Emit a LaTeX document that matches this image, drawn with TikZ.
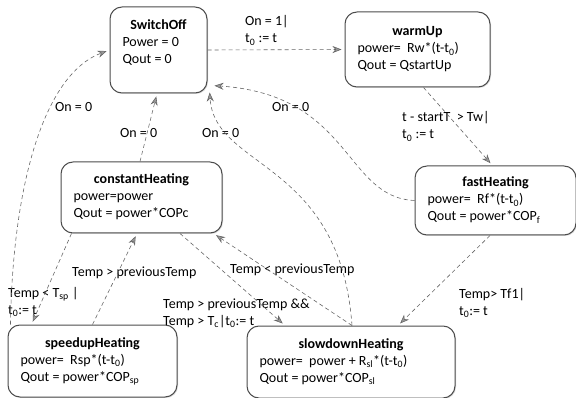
\documentclass[tikz,border=0pt]{standalone}
\usepackage{fontspec}
\setmainfont{Carlito}
\usepackage{tikz}
\usetikzlibrary{arrows.meta, shadows}

\newcommand{\statetext}[4]{%
  \begin{tabular}{@{}p{#1}@{}}
    \multicolumn{1}{@{}c@{}}{\textbf{#2}}\\ #3\\ #4
  \end{tabular}}

\begin{document}
\begin{tikzpicture}[
    x=1pt, y=-1pt,
    every node/.style={font=\fontsize{14}{17}\selectfont},
    state/.style={draw=black!70, line width=1pt, rounded corners=12pt, fill=white, inner xsep=12.5pt, inner ysep=0pt,
      drop shadow={shadow xshift=1pt, shadow yshift=-1pt, opacity=0.3}},
    lbl/.style={align=left, inner sep=0pt, anchor=west},
    trans/.style={-{Stealth[length=9pt, width=7pt, fill=black!40]}, draw=black!60, dash pattern=on 4pt off 3pt, line width=0.6pt, shorten >=3pt}
  ]
  \useasboundingbox (0,0) rectangle (576,398);

  % states
  \node[state, minimum height=86pt] (switchoff) at (158.5,50) {\statetext{72pt}{SwitchOff}{Power = 0}{Qout = 0\\[14pt]}};
  \node[state, minimum height=75pt] (warmup) at (417.5,49.5) {\statetext{120pt}{warmUp}{power=~ Rw*(t-t\textsubscript{0})}{Qout = QstartUp}};
  \node[state, minimum height=69pt] (fastheat) at (495.5,200.5) {\statetext{136pt}{fastHeating}{power=~ Rf*(t-t\textsubscript{0})}{Qout = power*COP\textsubscript{f}}};
  \node[state, minimum height=71pt] (constheat) at (141.5,197.5) {\statetext{136pt}{constantHeating}{power=power}{Qout = power*COPc}};
  \node[state, minimum height=72pt] (speedup) at (92.5,361) {\statetext{144pt}{speedupHeating}{power=~ Rsp*(t-t\textsubscript{0})}{Qout = power*COP\textsubscript{sp}}};
  \node[state, minimum height=72pt] (slowdown) at (351,362) {\statetext{183pt}{slowdownHeating}{power=~ power + R\textsubscript{sl}*(t-t\textsubscript{0})}{Qout = power*COP\textsubscript{sl}}};

  % guards
  \node[lbl] (lblon) at (245,30.5) {On = 1|\\t\textsubscript{0} := t};
  \node[lbl] (lbltw) at (402,126.5) {t - startT~ > Tw|\\t\textsubscript{0} := t};
  \node[lbl] (lbltf) at (459,303) {Temp> Tf1|\\t\textsubscript{0}:= t};
  \node[lbl] (lbltsp) at (8,302) {Temp < T\textsubscript{sp} |\\t\textsubscript{0}:= t};
  \node[lbl] (lblgt) at (72,273) {Temp > previousTemp};
  \node[lbl] (lbllt) at (230,270) {Temp < previousTemp};
  \node[lbl] (lbltc) at (163,313) {Temp > previousTemp \&\&\\Temp > T\textsubscript{c}|t\textsubscript{0}:= t};
  \node[lbl] (lbloffa) at (55,107) {On = 0};
  \node[lbl] (lbloffb) at (120,133) {On = 0};
  \node[lbl] (lbloffc) at (202,133) {On = 0};
  \node[lbl] (lbloffd) at (272,107) {On = 0};

  % transitions
  \draw[trans] (switchoff.east) -- (warmup.west);
  \draw[trans] ([xshift=6pt]warmup.south) -- ([xshift=-3pt]fastheat.north);
  \draw[trans] (fastheat.west) .. controls +(-70,-3) and +(140,9) .. ([xshift=4pt,yshift=8pt]switchoff.south east);
  \draw[trans] ([xshift=1pt]slowdown.north) .. controls +(-12,-166) and +(5,80) .. ([xshift=2pt,yshift=4pt]switchoff.south east);
  \draw[trans] ([xshift=3pt]speedup.north west) .. controls +(2,-135) and +(-67,25) .. (switchoff.west);
  \draw[trans] ([xshift=-1.5pt]constheat.north) -- ([xshift=-1.5pt]switchoff.south);
  \draw[trans] ([xshift=11pt]constheat.south west) -- ([xshift=24pt]speedup.north west);
  \draw[trans] (speedup.north) -- ([xshift=-4.5pt]constheat.south);
  \draw[trans] ([xshift=38.5pt]constheat.south) -- ([xshift=-66pt]slowdown.north);
  \draw[trans] ([xshift=1pt]slowdown.north) -- ([xshift=-9pt]constheat.south east);
  \draw[trans] ([xshift=-5.5pt]fastheat.south) -- ([xshift=47pt]slowdown.north);
\end{tikzpicture}
\end{document}
